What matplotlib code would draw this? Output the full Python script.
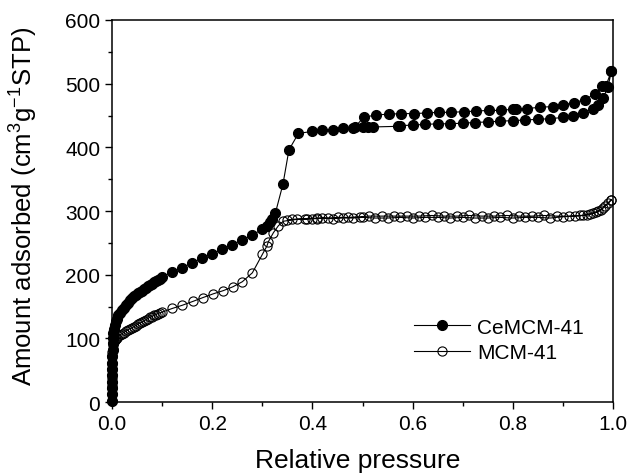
import matplotlib
matplotlib.use('Agg')
import matplotlib.pyplot as plt
from matplotlib.ticker import MultipleLocator

plt.rcParams['font.family'] = ['Liberation Sans', 'DejaVu Sans']
plt.rcParams['mathtext.fontset'] = 'custom'
plt.rcParams['mathtext.rm'] = 'Liberation Sans'
plt.rcParams['mathtext.it'] = 'Liberation Sans'

# CeMCM-41 adsorption / desorption
ce_ads_x = [0.0, 0.0, 0.0, 0.0001, 0.0001, 0.0002, 0.0003, 0.0005, 0.0008, 0.0012,
            0.0018, 0.0025, 0.0035, 0.005, 0.007, 0.009, 0.012, 0.015, 0.019, 0.023,
            0.027, 0.031, 0.035, 0.039, 0.043, 0.047, 0.051, 0.055, 0.059, 0.063,
            0.067, 0.071, 0.075, 0.079, 0.083, 0.087, 0.091, 0.095, 0.1, 0.12,
            0.14, 0.16, 0.18, 0.2, 0.22, 0.24, 0.26, 0.28, 0.3, 0.31,
            0.315, 0.32, 0.326, 0.341, 0.353, 0.372, 0.4, 0.42, 0.44, 0.46,
            0.48, 0.5, 0.51, 0.52, 0.57, 0.575, 0.6, 0.625, 0.65, 0.675,
            0.7, 0.725, 0.75, 0.775, 0.8, 0.825, 0.85, 0.875, 0.9, 0.92,
            0.94, 0.96, 0.97, 0.98, 0.99, 0.997]
ce_ads_y = [2, 12, 22, 32, 42, 52, 62, 72, 82, 92,
            101, 108, 114, 121, 127, 131, 136, 140, 144, 148,
            152, 156, 160, 163, 166, 168, 171, 173, 175, 177,
            179, 182, 184, 186, 188, 190, 192, 194, 197, 204,
            211, 219, 226, 233, 240, 247, 255, 262, 272, 277,
            282, 287, 297, 342, 396, 422, 425, 427, 428, 430,
            431, 432, 432, 432, 433, 434, 435, 436, 437, 437,
            438, 439, 440, 441, 442, 443, 444, 445, 447, 449,
            454, 461, 467, 477, 495, 520]
ce_des_x = [0.997, 0.986, 0.978, 0.964, 0.944, 0.922, 0.901, 0.88, 0.855, 0.829,
            0.806, 0.8, 0.777, 0.752, 0.727, 0.702, 0.677, 0.652, 0.628, 0.602,
            0.577, 0.552, 0.527, 0.502, 0.485]
ce_des_y = [520, 497, 496, 484, 475, 470, 467, 464, 463, 461,
            460, 460, 458, 458, 457, 456, 455, 455, 454, 453,
            453, 452, 451, 447, 432]

# MCM-41 adsorption / desorption
mcm_ads_x = [0.0, 0.0, 0.0, 0.0, 0.0001, 0.0002, 0.0004, 0.0007, 0.001, 0.002,
             0.003, 0.005, 0.007, 0.009, 0.012, 0.015, 0.019, 0.023, 0.027, 0.031,
             0.035, 0.039, 0.043, 0.047, 0.051, 0.055, 0.059, 0.063, 0.067, 0.071,
             0.075, 0.079, 0.083, 0.087, 0.091, 0.095, 0.099, 0.12, 0.14, 0.161,
             0.181, 0.202, 0.222, 0.241, 0.26, 0.28, 0.3, 0.309, 0.312, 0.322,
             0.332, 0.342, 0.37, 0.39, 0.4, 0.41, 0.42, 0.44, 0.46, 0.48,
             0.5, 0.525, 0.55, 0.575, 0.6, 0.625, 0.65, 0.675, 0.7, 0.725,
             0.75, 0.775, 0.8, 0.825, 0.85, 0.875, 0.9, 0.925, 0.94, 0.954,
             0.967, 0.977, 0.984, 0.997]
mcm_ads_y = [2, 12, 25, 38, 50, 60, 70, 78, 84, 90,
             94, 97, 99, 101, 103, 105, 107, 109, 111, 113,
             115, 116, 118, 120, 122, 124, 125, 127, 129, 131,
             133, 134, 136, 137, 139, 140, 141, 147, 152, 158,
             164, 170, 175, 181, 189, 203, 232, 245, 252, 266,
             277, 284, 287, 287, 288, 288, 289, 288, 289, 289,
             290, 289, 289, 290, 289, 290, 290, 289, 290, 289,
             289, 290, 289, 290, 290, 289, 291, 292, 293, 295,
             298, 302, 308, 318]
mcm_des_x = [0.997, 0.99, 0.98, 0.97, 0.96, 0.948, 0.935, 0.912, 0.888, 0.862,
             0.838, 0.812, 0.788, 0.762, 0.738, 0.712, 0.688, 0.662, 0.638, 0.612,
             0.588, 0.562, 0.538, 0.512, 0.495, 0.47, 0.45, 0.43, 0.41, 0.385,
             0.36, 0.35]
mcm_des_y = [318, 312, 305, 300, 297, 294, 293, 292, 292, 293,
             292, 292, 293, 292, 292, 293, 292, 292, 293, 292,
             292, 292, 292, 292, 291, 290, 290, 289, 289, 288,
             287, 286]

fig = plt.figure(figsize=(6.3, 4.77), dpi=100)
ax = fig.add_axes([0.178, 0.155, 0.795, 0.801])

ax.plot(ce_ads_x + ce_des_x, ce_ads_y + ce_des_y, '-', color='k', lw=0.8,
        marker='o', ms=7.2, mfc='k', mec='k', mew=0.8, label='CeMCM-41', zorder=3,
        clip_on=False)
ax.plot(mcm_ads_x + mcm_des_x, mcm_ads_y + mcm_des_y, '-', color='k', lw=0.8,
        marker='o', ms=6.6, mfc='none', mec='k', mew=0.8, label='MCM-41', zorder=2,
        clip_on=False)

ax.set_xlim(0, 1.0)
ax.set_ylim(0, 600)
ax.xaxis.set_major_locator(MultipleLocator(0.2))
ax.xaxis.set_minor_locator(MultipleLocator(0.1))
ax.yaxis.set_major_locator(MultipleLocator(100))
ax.yaxis.set_minor_locator(MultipleLocator(50))
ax.xaxis.set_major_formatter(plt.FormatStrFormatter('%.1f'))
ax.tick_params(which='major', direction='out', length=5, width=1, labelsize=15, pad=3.5)
ax.tick_params(which='minor', direction='out', length=3, width=1)
for s in ax.spines.values():
    s.set_linewidth(1.1)

ax.set_xlabel('Relative pressure', fontsize=19)
ax.set_ylabel(r'Amount adsorbed (cm$^{3}$g$^{-1}$STP)', fontsize=18.5)
ax.xaxis.set_label_coords(0.491, -0.12)
ax.yaxis.set_label_coords(-0.144, 0.514)

ax.legend(loc='upper left', bbox_to_anchor=(0.657, 0.332), bbox_transform=fig.transFigure,
          frameon=False, fontsize=15, borderpad=0, borderaxespad=0,
          handlelength=2.7, handletextpad=0.35, labelspacing=0.3)

fig.savefig('out.png', dpi=100)
